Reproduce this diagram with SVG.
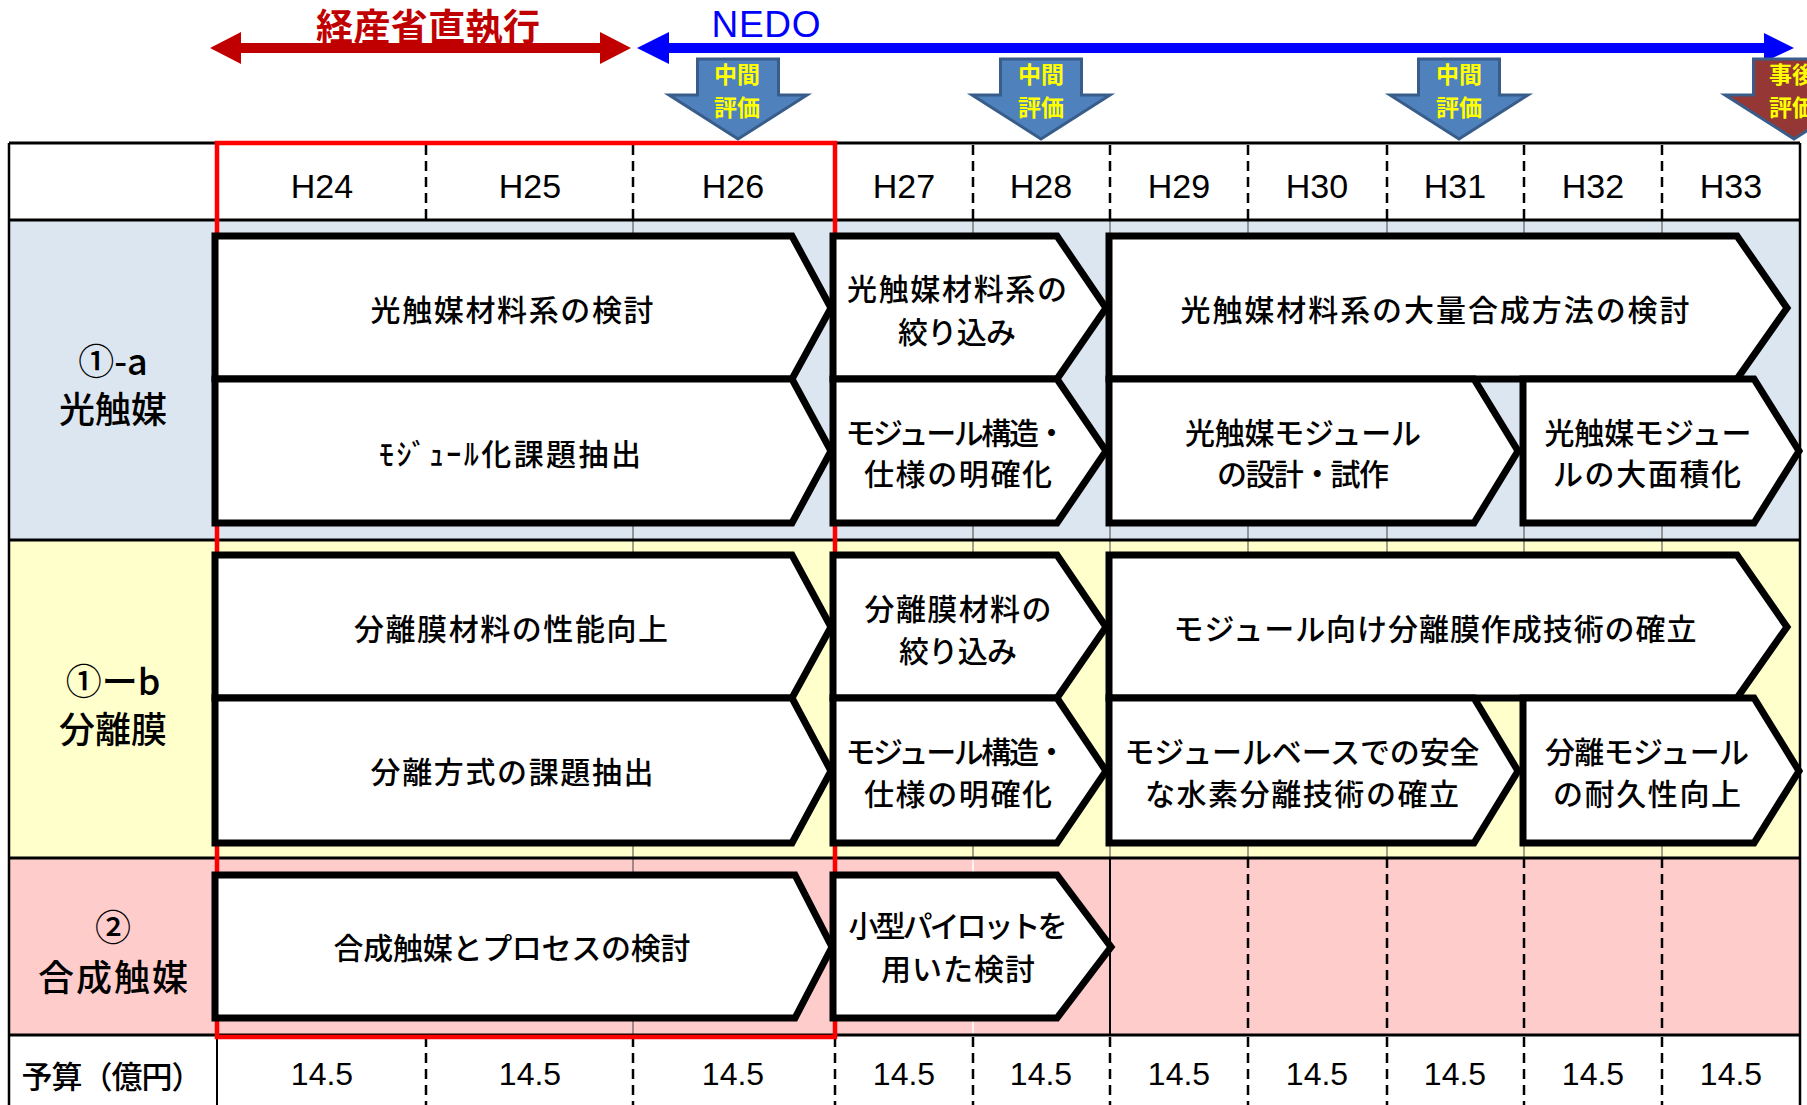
<svg xmlns="http://www.w3.org/2000/svg" width="1807" height="1105" viewBox="0 0 1807 1105">
<style>
.jp{font-family:"Noto Sans CJK JP","Noto Sans",sans-serif;}
.node polygon{fill:#fff;stroke:#000;stroke-width:7;stroke-linejoin:miter;}
.nt{font-family:"Noto Sans CJK JP","Noto Sans",sans-serif;font-size:30px;font-weight:500;fill:#000;text-anchor:middle;dominant-baseline:central;}
.lbl{font-family:"Noto Sans CJK JP","Noto Sans",sans-serif;font-size:36px;font-weight:500;fill:#000;text-anchor:middle;dominant-baseline:central;}
.hd{font-family:"Liberation Sans",Arial,sans-serif;font-size:34px;fill:#000;text-anchor:middle;}
.bd{font-family:"Liberation Sans",Arial,sans-serif;font-size:32px;fill:#000;text-anchor:middle;}
.dash{stroke:#000;stroke-width:2.5;stroke-dasharray:10 6;fill:none;}
.thin{stroke:#444;stroke-width:1;fill:none;}
.hl{stroke:#000;stroke-width:3;fill:none;}
.ev polygon{fill:#4F81BD;stroke:#385D8A;stroke-width:3;stroke-linejoin:miter;}
.ev.post polygon{fill:#953735;}
.evt{font-family:"Noto Sans CJK JP","Noto Sans",sans-serif;font-size:23px;font-weight:bold;fill:#FFFF00;text-anchor:middle;dominant-baseline:central;}
</style>

<!-- row backgrounds -->
<g id="table-bg">
  <rect x="9" y="143" width="1791" height="77" fill="#FFFFFF"/>
  <rect x="9" y="220" width="1791" height="320" fill="#DCE6F1"/>
  <rect x="9" y="540" width="1791" height="318" fill="#FFFFCC"/>
  <rect x="9" y="858" width="1791" height="177" fill="#FFCCCC"/>
  <rect x="9" y="1035" width="1791" height="70" fill="#FFFFFF"/>
</g>

<!-- grid -->
<g id="grid">
  <path class="dash" d="M426 145V220M633 145V220M973 145V220M1110 145V220M1248 145V220M1387 145V220M1524 145V220M1662 145V220"/>
  <path class="thin" d="M633 220V858M973 220V858M1110 220V858M1248 220V858M1387 220V858M1524 220V858M1662 220V858"/>
  <path class="thin" d="M633 858V1035"/>
  <path stroke="#FFFFFF" stroke-width="1.5" d="M973 858V1035"/>
  <path stroke="#000" stroke-width="2" d="M1110 858V1035"/>
  <path class="dash" d="M1248 858V1035M1387 858V1035M1524 858V1035M1662 858V1035"/>
  <path class="dash" d="M426 1037V1105M633 1037V1105M835 1037V1105M973 1037V1105M1110 1037V1105M1248 1037V1105M1387 1037V1105M1524 1037V1105M1662 1037V1105"/>
  <path class="hl" d="M9 143H1800M9 220H1800M9 540H1800M9 858H1800M9 1035H1800"/>
  <path stroke="#000" stroke-width="2.5" d="M9 143V1105M1800 143V1105"/>
  <path stroke="#000" stroke-width="2" d="M217 143V1105"/>
</g>

<!-- red box -->
<rect id="direct-period" x="217" y="143" width="618" height="894" fill="none" stroke="#FF0000" stroke-width="4.5"/>

<!-- header texts -->
<g id="header">
  <text class="hd" x="322" y="198">H24</text>
  <text class="hd" x="530" y="198">H25</text>
  <text class="hd" x="733" y="198">H26</text>
  <text class="hd" x="904" y="198">H27</text>
  <text class="hd" x="1041" y="198">H28</text>
  <text class="hd" x="1179" y="198">H29</text>
  <text class="hd" x="1317" y="198">H30</text>
  <text class="hd" x="1455" y="198">H31</text>
  <text class="hd" x="1593" y="198">H32</text>
  <text class="hd" x="1731" y="198">H33</text>
</g>

<!-- row labels -->
<g id="label-1a">
  <text class="lbl" x="113" y="359">①-a</text>
  <text class="lbl" x="113" y="407">光触媒</text>
</g>
<g id="label-1b">
  <text class="lbl" x="113" y="679">①ーb</text>
  <text class="lbl" x="113" y="727">分離膜</text>
</g>
<g id="label-2">
  <text class="lbl" x="113" y="925">②</text>
  <text class="lbl" x="113" y="975" textLength="150">合成触媒</text>
</g>

<!-- budget row -->
<g id="budget">
  <text class="lbl" x="112" y="1074" style="font-size:31px" textLength="181">予算（億円）</text>
  <text class="bd" x="322" y="1085">14.5</text>
  <text class="bd" x="530" y="1085">14.5</text>
  <text class="bd" x="733" y="1085">14.5</text>
  <text class="bd" x="904" y="1085">14.5</text>
  <text class="bd" x="1041" y="1085">14.5</text>
  <text class="bd" x="1179" y="1085">14.5</text>
  <text class="bd" x="1317" y="1085">14.5</text>
  <text class="bd" x="1455" y="1085">14.5</text>
  <text class="bd" x="1593" y="1085">14.5</text>
  <text class="bd" x="1731" y="1085">14.5</text>
</g>

<!-- row 1 nodes -->
<g id="n-1a-material" class="node">
  <polygon points="215,236 792,236 831,308 792,379 215,379"/>
  <text class="nt" x="512" y="308" textLength="283">光触媒材料系の検討</text>
</g>
<g id="n-1a-module-issue" class="node">
  <polygon points="215,379 792,379 831,451 792,523 215,523"/>
  <text class="nt" x="510" y="452" textLength="262">ﾓｼﾞｭｰﾙ化課題抽出</text>
</g>
<g id="n-1a-narrow" class="node">
  <polygon points="833,236 1057,236 1106,308 1057,379 833,379"/>
  <text class="nt" x="957" y="287" textLength="220">光触媒材料系の</text>
  <text class="nt" x="957" y="330" textLength="118">絞り込み</text>
</g>
<g id="n-1a-spec" class="node">
  <polygon points="833,379 1057,379 1106,451 1057,523 833,523"/>
  <text class="nt" x="956" y="431" textLength="221">モジュール構造・</text>
  <text class="nt" x="958" y="472" textLength="188">仕様の明確化</text>
</g>
<g id="n-1a-mass" class="node">
  <polygon points="1109,236 1737,236 1787,308 1737,379 1109,379"/>
  <text class="nt" x="1435" y="308" textLength="509">光触媒材料系の大量合成方法の検討</text>
</g>
<g id="n-1a-design" class="node">
  <polygon points="1109,379 1474,379 1518,451 1474,523 1109,523"/>
  <text class="nt" x="1303" y="431" textLength="236">光触媒モジュール</text>
  <text class="nt" x="1303" y="472" textLength="172">の設計・試作</text>
</g>
<g id="n-1a-large" class="node">
  <polygon points="1523,379 1754,379 1799,451 1754,523 1523,523"/>
  <text class="nt" x="1648" y="431" textLength="207">光触媒モジュー</text>
  <text class="nt" x="1647" y="472" textLength="188">ルの大面積化</text>
</g>

<!-- row 2 nodes -->
<g id="n-1b-perf" class="node">
  <polygon points="215,555 792,555 831,627 792,698 215,698"/>
  <text class="nt" x="511" y="627" textLength="314">分離膜材料の性能向上</text>
</g>
<g id="n-1b-method" class="node">
  <polygon points="215,698 792,698 831,771 792,843 215,843"/>
  <text class="nt" x="512" y="770" textLength="283">分離方式の課題抽出</text>
</g>
<g id="n-1b-narrow" class="node">
  <polygon points="833,555 1057,555 1106,627 1057,698 833,698"/>
  <text class="nt" x="958" y="607" textLength="187">分離膜材料の</text>
  <text class="nt" x="958" y="649" textLength="118">絞り込み</text>
</g>
<g id="n-1b-spec" class="node">
  <polygon points="833,698 1057,698 1106,771 1057,843 833,843"/>
  <text class="nt" x="956" y="750" textLength="221">モジュール構造・</text>
  <text class="nt" x="958" y="792" textLength="188">仕様の明確化</text>
</g>
<g id="n-1b-membrane" class="node">
  <polygon points="1109,555 1737,555 1787,627 1737,698 1109,698"/>
  <text class="nt" x="1435" y="627" textLength="523">モジュール向け分離膜作成技術の確立</text>
</g>
<g id="n-1b-safe" class="node">
  <polygon points="1109,698 1474,698 1518,771 1474,843 1109,843"/>
  <text class="nt" x="1302" y="750" textLength="355">モジュールベースでの安全</text>
  <text class="nt" x="1302" y="792" textLength="314">な水素分離技術の確立</text>
</g>
<g id="n-1b-durable" class="node">
  <polygon points="1523,698 1754,698 1799,771 1754,843 1523,843"/>
  <text class="nt" x="1647" y="750" textLength="204">分離モジュール</text>
  <text class="nt" x="1647" y="792" textLength="188">の耐久性向上</text>
</g>

<!-- row 3 nodes -->
<g id="n-2-process" class="node">
  <polygon points="215,875 795,875 832,947 795,1018 215,1018"/>
  <text class="nt" x="512" y="946" textLength="357">合成触媒とプロセスの検討</text>
</g>
<g id="n-2-pilot" class="node">
  <polygon points="833,875 1057,875 1111,947 1057,1018 833,1018"/>
  <text class="nt" x="958" y="924" textLength="219">小型パイロットを</text>
  <text class="nt" x="958" y="967" textLength="154">用いた検討</text>
</g>

<!-- timeline arrows -->
<g id="connectors">
  <polygon fill="#C00000" points="210,48 241,32 241,43 600,43 600,32 631,48 600,64 600,53 241,53 241,64"/>
  <polygon fill="#0000FF" points="637,48 669,32 669,43 1764,43 1764,33 1794,48 1764,62 1764,53 669,53 669,64"/>
</g>
<text class="jp" x="428" y="25" font-size="37" font-weight="bold" fill="#C00000" text-anchor="middle" dominant-baseline="central" textLength="224">経産省直執行</text>
<text x="766" y="37" font-family="'Liberation Sans',Arial,sans-serif" font-size="37" fill="#0000FF" text-anchor="middle" textLength="109">NEDO</text>

<!-- evaluation arrows -->
<g id="ev-1" class="ev">
  <polygon points="697.5,59 778.5,59 778.5,95 807,95 738,139 669,95 697.5,95"/>
  <text class="evt" x="737" y="73">中間</text>
  <text class="evt" x="737" y="106">評価</text>
</g>
<g id="ev-2" class="ev">
  <polygon points="1000.5,59 1081.5,59 1081.5,95 1110,95 1041,139 972,95 1000.5,95"/>
  <text class="evt" x="1041" y="73">中間</text>
  <text class="evt" x="1041" y="106">評価</text>
</g>
<g id="ev-3" class="ev">
  <polygon points="1418.5,59 1499.5,59 1499.5,95 1528,95 1459,139 1390,95 1418.5,95"/>
  <text class="evt" x="1459" y="73">中間</text>
  <text class="evt" x="1459" y="106">評価</text>
</g>
<g id="ev-4" class="ev post">
  <polygon points="1753.5,59 1834.5,59 1834.5,95 1863,95 1794,139 1725,95 1753.5,95"/>
  <text class="evt" x="1792" y="73">事後</text>
  <text class="evt" x="1792" y="106">評価</text>
</g>
</svg>
